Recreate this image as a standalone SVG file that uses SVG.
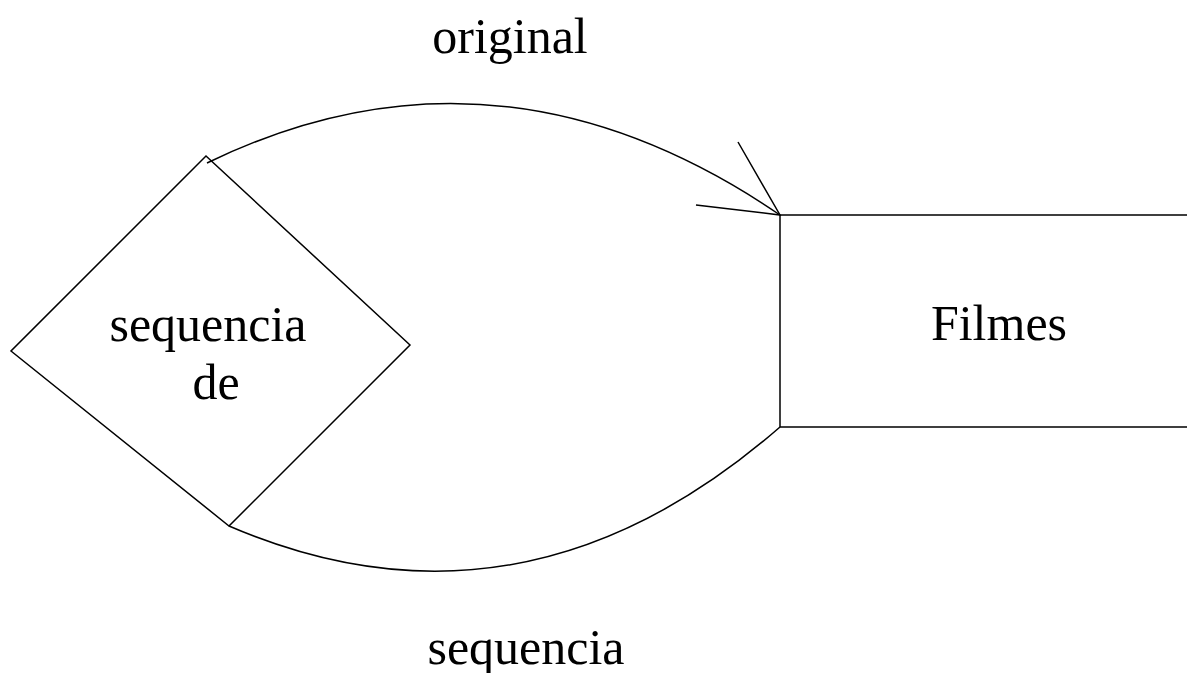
<svg xmlns="http://www.w3.org/2000/svg" width="1187" height="673" viewBox="0 0 1187 673">
<style>
.s{fill:none;stroke:#000;stroke-width:1.5}
text{font-family:"Liberation Serif","Times New Roman",serif;font-size:50px;fill:#000;text-anchor:middle}
</style>
<rect width="1187" height="673" fill="#fff"/>
<g id="diamond">
<polygon class="s" points="206,156 410,345 229,526 11,351"/>
<text x="208" y="341">sequencia</text>
<text x="216" y="399">de</text>
</g>
<g id="filmes">
<polyline class="s" points="1187,215 780,215 780,427 1187,427"/>
<text x="999" y="340">Filmes</text>
</g>
<g id="connectors">
<path class="s" d="M207,163 Q497,22 780,215"/>
<polyline class="s" points="738,142 780,215 696,205"/>
<path class="s" d="M229,526 Q522,652 780,427"/>
<text x="510" y="53">original</text>
<text x="526" y="664">sequencia</text>
</g>
</svg>
